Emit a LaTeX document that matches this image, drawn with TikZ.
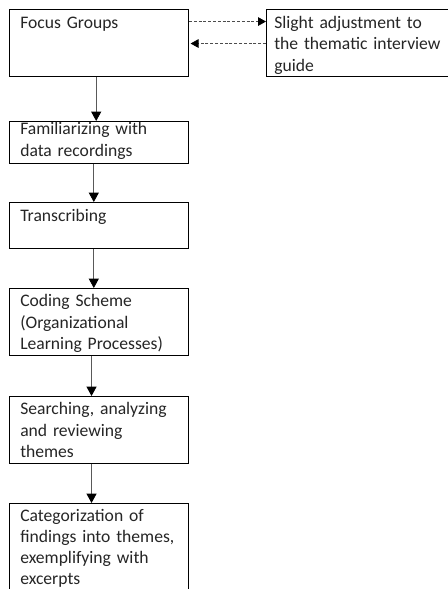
\documentclass[tikz,border=0pt]{standalone}
\usepackage{fontspec}
\setmainfont{Carlito}
\usetikzlibrary{arrows.meta}
\begin{document}
\begin{tikzpicture}[x=0.75pt,y=-0.75pt,
  box/.style={draw=black,line width=0.75pt,rectangle,inner sep=0pt,anchor=north west,minimum width=134.25pt},
  lbl/.style={anchor=north west,inner sep=0pt,text width=125pt,align=left,font=\fontsize{13.2pt}{16.1pt}\selectfont,text=black!85},
  arr/.style={draw=black!65,line width=0.6pt,-{Triangle[width=7.5pt,length=7pt,color=black]}},
  darr/.style={draw=black!70,line width=0.6pt,dash pattern=on 2.2pt off 1.4pt,-{Triangle[width=6.5pt,length=6pt,color=black]}}]
\clip (0,0) rectangle (448,589);
\fill[white] (0,0) rectangle (448,589);
\node[box,minimum height=50.25pt] (b1) at (9,9) {};
\node[box,minimum width=139.5pt,minimum height=50.25pt] (br) at (266,9) {};
\node[box,minimum height=31.5pt] (b2) at (9,121) {};
\node[box,minimum height=34.5pt] (b3) at (9,202) {};
\node[box,minimum height=50.25pt] (b4) at (9,288) {};
\node[box,minimum height=50.25pt] (b5) at (9,396) {};
\node[box,minimum height=75pt] (b6) at (9,503) {};
\node[lbl] (t1) at (20,13) {\strut Focus Groups};
\node[lbl,text width=135pt] (tr) at (274,13) {\strut Slight adjustment to\\the thematic interview\\guide};
\node[lbl] (t2) at (20,119.7) {\strut Familiarizing with\\data recordings};
\node[lbl] (t3) at (20,206.7) {\strut Transcribing};
\node[lbl] (t4) at (20,291.7) {\strut Coding Scheme\\(Organizational\\Learning Processes)};
\node[lbl] (t5) at (20,399.3) {\strut Searching, analyzing\\and reviewing\\themes};
\node[lbl,font=\fontsize{13.2pt}{15.6pt}\selectfont] (t6) at (20,507) {\strut Categorization of\\findings into themes,\\exemplifying with\\excerpts};
\draw[arr] ([xshift=-2.1pt]b1.south) -- ([xshift=-2.1pt]b2.north);
\draw[arr] ([xshift=-3.9pt]b2.south) -- ([xshift=-3.9pt]b3.north);
\draw[arr] ([xshift=-3.9pt]b3.south) -- ([xshift=-3.9pt]b4.north);
\draw[arr] ([xshift=-5.6pt]b4.south) -- ([xshift=-5.6pt]b5.north);
\draw[arr] ([xshift=-5.6pt]b5.south) -- ([xshift=-5.6pt]b6.north);
\draw[darr] ([yshift=16.1pt]b1.east) -- ([yshift=16.1pt]b1.east -| br.west);
\draw[darr] ([yshift=-0.4pt]br.west) -- ([yshift=-0.4pt,xshift=1.2pt]br.west -| b1.east);
\end{tikzpicture}
\end{document}
